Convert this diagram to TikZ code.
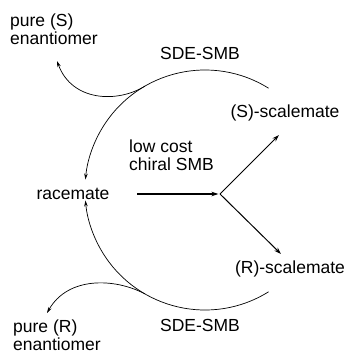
\documentclass[tikz,border=0pt]{standalone}
\usepackage{fontspec}
\setmainfont{Liberation Sans}
\usetikzlibrary{arrows.meta,calc}
\begin{document}
\begin{tikzpicture}[x=1pt,y=-1pt,
  lbl/.style={inner sep=0pt,font=\fontsize{17.5}{18.5}\selectfont},
  thinarc/.style={line width=0.7pt,-{Stealth[length=6pt,width=3.5pt]}},
  mainarrow/.style={line width=1.2pt,-{Stealth[length=7pt,width=4.5pt]}},
  branch/.style={line width=1.0pt,-{Stealth[length=7pt,width=4.5pt]}}]
\useasboundingbox (0,0) rectangle (350,357);
% labels
\node[lbl,align=left,anchor=west] (pureS) at (10,29) {pure (S)\\enantiomer};
\node[lbl] (sdeTop) at (200,53) {SDE-SMB};
\node[lbl] (Ssc) at (285,113) {(S)-scalemate};
\node[lbl,align=left,anchor=west] (lowcost) at (129,155) {low cost\\chiral SMB};
\node[lbl] (race) at (73,194) {racemate};
\node[lbl] (Rsc) at (290,269) {(R)-scalemate};
\node[lbl] (sdeBot) at (200,325) {SDE-SMB};
\node[lbl,align=left,anchor=west] (pureR) at (13,335) {pure (R)\\enantiomer};
% geometry
\coordinate (c) at (205,190);
\coordinate (v) at (220,194);
\coordinate (start) at (137,194);
\coordinate (up) at (279,135);
\coordinate (dn) at (281,254);
% main arrow and branches
\draw[mainarrow] (start) -- ($(v)+(-1.5,0)$);
\draw[branch] (v) -- (up);
\draw[branch] (v) -- (dn);
% big arcs
\draw[thinarc] ($(c)+(-58:120)$) arc[start angle=-58,end angle=-175,radius=120];
\draw[thinarc] ($(c)+(58:120)$) arc[start angle=58,end angle=175,radius=120];
% small branching arcs
\coordinate (bt) at ($(c)+(-120:120)$);
\coordinate (bb) at ($(c)+(120:120)$);
\coordinate (tipS) at (57,61);
\coordinate (tipR) at (47,313);
\draw[thinarc] (bt) .. controls (118,103) and (72,102) .. (tipS);
\draw[thinarc] (bb) .. controls (115,278) and (68,276) .. (tipR);
\end{tikzpicture}
\end{document}
